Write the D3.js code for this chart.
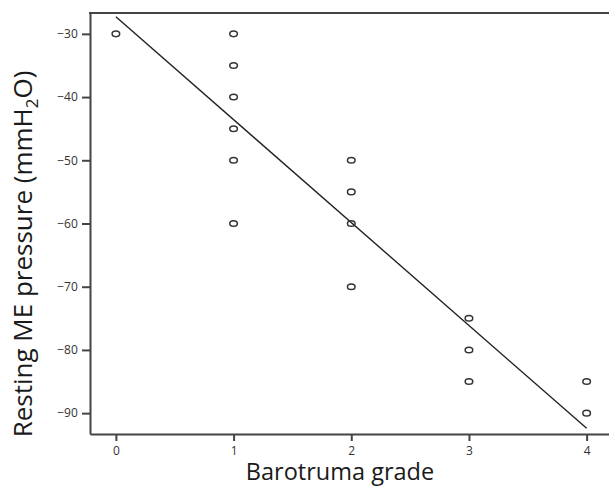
<!DOCTYPE html>
<html><head><meta charset="utf-8">
<script src="https://cdn.jsdelivr.net/npm/d3@7"></script>
<style>body{margin:0;background:#fff}svg{display:block}</style>
</head><body><svg id="c" width="609" height="487"></svg>
<script>
const grade = [0, 1, 1, 1, 1, 1, 1, 2, 2, 2, 2, 3, 3, 3, 4, 4];
const pressure = [-30, -30, -35, -40, -45, -50, -60, -50, -55, -60, -70, -75, -80, -85, -85, -90];
const fitX = [0, 4];
const fitY = [-27.3, -92.4];
const xTicks = [0, 1, 2, 3, 4];
const yTicks = [-30, -40, -50, -60, -70, -80, -90];

const svg = d3.select("#c");
const L = 90, R = 609, T = 13, B = 434;
const x = d3.scaleLinear().domain([-0.22, 4.19]).range([L, R]);
const y = d3.scaleLinear().domain([-93.3, -26.7]).range([B, T]);
const fmt = d => d < 0 ? "\u2212" + Math.abs(d) : String(d);
const axCol = "#444";

const gx = svg.append("g").attr("transform", `translate(0,${B})`)
  .call(d3.axisBottom(x).tickValues(xTicks).tickSize(7).tickSizeOuter(0).tickFormat(fmt));
const gy = svg.append("g").attr("transform", `translate(${L},0)`)
  .call(d3.axisLeft(y).tickValues(yTicks).tickSize(8).tickSizeOuter(0).tickFormat(fmt));
[gx, gy].forEach(g => {
  g.select(".domain").attr("stroke", axCol).attr("stroke-width", 2);
  g.selectAll(".tick line").attr("stroke", axCol).attr("stroke-width", 2);
  g.selectAll(".tick text").attr("fill", "#333").attr("font-family", "Open Sans, sans-serif").attr("font-size", 12);
});
gx.selectAll(".tick text").attr("dy", "0.95em");
gy.selectAll(".tick text").attr("dx", "-0.1em");
// top border line
svg.append("line").attr("x1", L - 1).attr("x2", R).attr("y1", T).attr("y2", T)
  .attr("stroke", axCol).attr("stroke-width", 2);

svg.append("line")
  .attr("x1", x(fitX[0])).attr("y1", y(fitY[0]))
  .attr("x2", x(fitX[1])).attr("y2", y(fitY[1]))
  .attr("stroke", "#222").attr("stroke-width", 1.4);

svg.selectAll("ellipse.pt").data(grade.map((g, i) => [g, pressure[i]])).enter()
  .append("ellipse").attr("class", "pt")
  .attr("cx", d => x(d[0])).attr("cy", d => y(d[1]))
  .attr("rx", 3.8).attr("ry", 2.8)
  .attr("fill", "none").attr("stroke", "#333").attr("stroke-width", 1.5);

svg.append("text").attr("x", 340).attr("y", 480).attr("text-anchor", "middle")
  .attr("font-family", "Open Sans, sans-serif").attr("font-size", 23.5).attr("fill", "#1a1a1a")
  .text("Barotruma grade");

const yl = svg.append("text").attr("transform", "translate(32,254) rotate(-90)")
  .attr("text-anchor", "middle")
  .attr("font-family", "Open Sans, sans-serif").attr("font-size", 26).attr("fill", "#1a1a1a");
yl.append("tspan").text("Resting ME pressure (mmH");
yl.append("tspan").attr("font-size", 17).attr("dy", 6).text("2");
yl.append("tspan").attr("dy", -6).text("O)");
</script></body></html>
